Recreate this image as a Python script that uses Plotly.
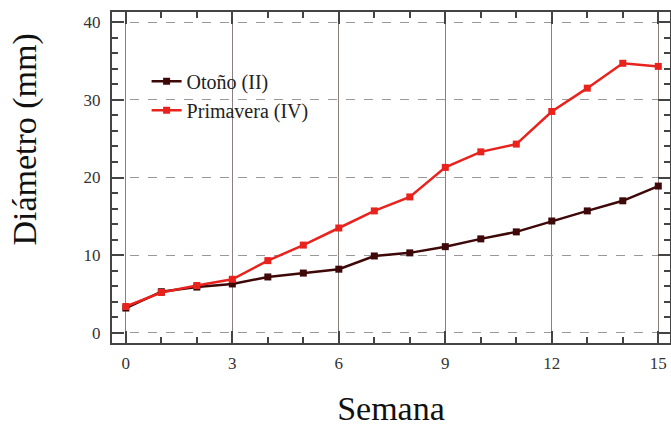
import plotly.graph_objects as go

semana = list(range(16))
otono = [3.2, 5.3, 5.9, 6.3, 7.2, 7.7, 8.2, 9.9, 10.3, 11.1, 12.1, 13.0, 14.4, 15.7, 17.0, 18.9]
primavera = [3.4, 5.2, 6.1, 6.9, 9.3, 11.3, 13.5, 15.7, 17.5, 21.3, 23.3, 24.3, 28.5, 31.5, 34.7, 34.3]
series_names = ["Otoño (II)", "Primavera (IV)"]
x_ticks = [0, 3, 6, 9, 12, 15]
y_ticks = [0, 10, 20, 30, 40]

SERIF = "Liberation Serif, Times New Roman, serif"

fig = go.Figure()
fig.add_trace(go.Scatter(x=semana, y=otono, name=series_names[0], mode="lines+markers",
                         line=dict(color="#3e0808", width=2.5),
                         marker=dict(symbol="square", size=7, color="#3e0808"),
                         legendgroup="a"))
fig.add_trace(go.Scatter(x=semana, y=primavera, name=series_names[1], mode="lines+markers",
                         line=dict(color="#e8231e", width=2.5),
                         marker=dict(symbol="square", size=7, color="#e8231e"),
                         legendgroup="b"))

axis_common = dict(showline=True, linecolor="#444", linewidth=2, mirror="ticks",
                   ticks="inside", tickcolor="#444", tickwidth=1.5, ticklen=12,
                   zeroline=False, automargin=False,
                   tickfont=dict(family=SERIF, size=17, color="#333"))
fig.update_xaxes(range=[-0.39, 15.33], tickvals=x_ticks, showgrid=True, gridcolor="#8a8080", gridwidth=1,
                 minor=dict(dtick=1, tick0=0, ticks="inside", ticklen=6, tickcolor="#444", showgrid=False),
                 ticklabelstandoff=4,
                 title=dict(text="Semana", font=dict(family=SERIF, size=34, color="#111"), standoff=32),
                 **axis_common)
fig.update_yaxes(range=[-1.3, 41.3], tickvals=y_ticks, showgrid=True, gridcolor="#999", gridwidth=1, griddash="dash",
                 minor=dict(dtick=2, tick0=0, ticks="inside", ticklen=6, tickcolor="#444", showgrid=False),
                 ticklabelstandoff=6,
                 **axis_common)

fig.add_annotation(text="Diámetro (mm)", xref="paper", yref="paper", x=-0.155, y=0.613,
                   xanchor="center", yanchor="middle", textangle=-90, showarrow=False,
                   font=dict(family=SERIF, size=34, color="#111"))

fig.update_layout(width=671, height=427, margin=dict(l=112, r=1, t=12, b=84, autoexpand=False),
                  plot_bgcolor="white", paper_bgcolor="white",
                  legend=dict(x=0.062, y=0.85, xanchor="left", yanchor="top", bgcolor="rgba(0,0,0,0)",
                              font=dict(family=SERIF, size=20, color="#222"),
                              tracegroupgap=0, itemwidth=30))
fig.write_html("out.html")
